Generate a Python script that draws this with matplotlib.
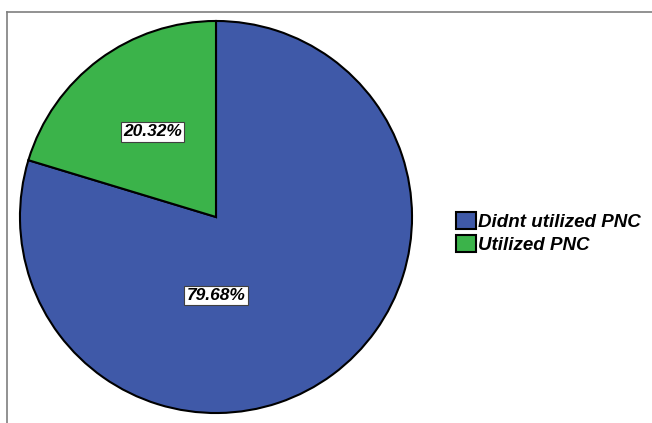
import matplotlib.pyplot as plt
from matplotlib.lines import Line2D

# data
labels = ['Didnt utilized PNC', 'Utilized PNC']
values = [79.68, 20.32]
colors = ['#3f59a8', '#3bb34a']

plt.rcParams['font.family'] = ['Liberation Sans', 'DejaVu Sans']

W, H = 652, 423
fig = plt.figure(figsize=(W/100, H/100), dpi=100)

# grey frame (top and left edges only visible)
fig.add_artist(Line2D([7/W, 1], [1-12/H, 1-12/H], transform=fig.transFigure,
                      color='#7f7f7f', lw=1.2))
fig.add_artist(Line2D([7/W, 7/W], [1-12/H, 0], transform=fig.transFigure,
                      color='#7f7f7f', lw=1.2))

cx, cy, r = 216, 217, 197
ax = fig.add_axes([(cx-r)/W, 1-(cy+r)/H, 2*r/W, 2*r/H])
wedges, texts, autotexts = ax.pie(values, colors=colors, startangle=90, counterclock=False,
                                  autopct='%.2f%%', pctdistance=0.54, radius=1,
                                  wedgeprops=dict(edgecolor='black', linewidth=1.5))
ax.set_xlim(-1.005, 1.005)
ax.set_ylim(-1.005, 1.005)
ax.set_aspect('equal')
ax.axis('off')

# SPSS puts the big label just below the centre
autotexts[0].set_position((0.0, -0.40))
for t in autotexts:
    t.set_fontsize(12.5)
    t.set_fontweight('bold')
    t.set_fontstyle('italic')
    t.set_bbox(dict(facecolor='white', edgecolor='#404040', linewidth=0.8, pad=1.5))

leg = fig.legend(wedges, labels, loc='center left', bbox_to_anchor=(456/W, 1-233/H),
                 frameon=False, borderpad=0, borderaxespad=0,
                 handlelength=1.05, handleheight=1.05, handletextpad=0.15,
                 labelspacing=0.2, prop=dict(size=13.5, weight='bold', style='italic'))
for h in leg.legend_handles:
    h.set_edgecolor('black')
    h.set_linewidth(1.5)

fig.savefig('out.png', dpi=100)
